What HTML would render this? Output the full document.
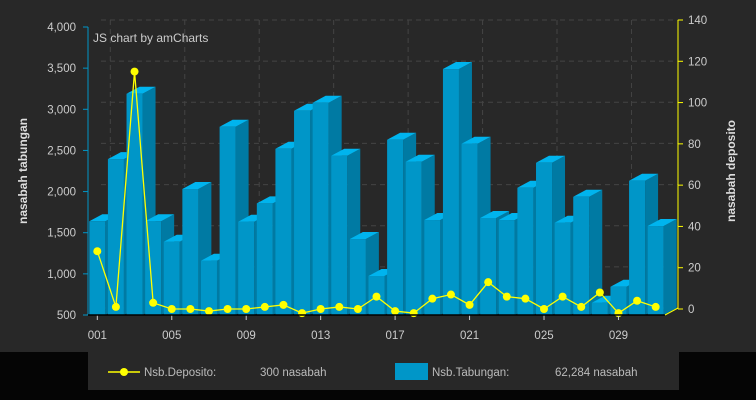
<!DOCTYPE html>
<html><head><meta charset="utf-8"><style>
body{margin:0;background:#050505;}
svg{display:block;font-family:"Liberation Sans","DejaVu Sans",sans-serif;}
</style></head><body>
<svg id="c" width="756" height="400">
<rect x="0" y="0" width="756" height="352" fill="#282828"/>
<rect x="0" y="352" width="756" height="48" fill="#050505"/>
<rect x="88" y="352" width="591" height="38" fill="#282828"/>
<g id="grid"></g><g id="bars"></g><g id="line"></g><g id="axes"></g>
<text x="93" y="42" fill="#ccc" font-size="12">JS chart by amCharts</text>
<text transform="translate(27,171) rotate(-90)" text-anchor="middle" fill="#ddd" font-size="12" font-weight="bold">nasabah tabungan</text>
<text transform="translate(735,171) rotate(-90)" text-anchor="middle" fill="#ddd" font-size="12" font-weight="bold">nasabah deposito</text>
<g>
<line x1="108" y1="372" x2="140" y2="372" stroke="#ffff00" stroke-width="1.5"/>
<circle cx="124" cy="372" r="4" fill="#ffff00"/>
<text x="144" y="376" fill="#bbb" font-size="11.5">Nsb.Deposito:</text>
<text x="260" y="376" fill="#bbb" font-size="11.5">300 nasabah</text>
</g>
<g>
<rect x="395" y="363" width="33" height="17" fill="#0096c8"/>
<text x="432" y="376" fill="#bbb" font-size="11.5">Nsb.Tabungan:</text>
<text x="555" y="376" fill="#bbb" font-size="11.5">62,284 nasabah</text>
</g>
</svg>
<script>
const categories=[];for(let i=1;i<=31;i++)categories.push(String(i).padStart(3,'0'));
const tabungan=[1640,2395,3189,1640,1390,2031,1160,2788,1634,1857,2520,2982,3080,2435,1423,974,2630,2363,1654,3489,2581,1679,1654,2047,2350,1621,1937,649,844,2132,1581];
const deposito=[28,1,115,3,0,0,-1,0,0,1,2,-2,0,1,0,6,-1,-2,5,7,2,13,6,5,0,6,1,8,-2,4,1];
const leftTicks=[500,1000,1500,2000,2500,3000,3500,4000];
const rightTicks=[0,20,40,60,80,100,120,140];
const NS='http://www.w3.org/2000/svg';
const X0=88,X1=665,YB=315,YT=27,DX=13,DY=-7;
const step=(X1-X0)/categories.length;
const xC=i=>X0+step*(i+0.5);
const yL=v=>YB-(v-500)/(4000-500)*(YB-YT);
const yR=v=>309-v/140*(309-20);
function el(t,a,p){const e=document.createElementNS(NS,t);for(const k in a)e.setAttribute(k,a[k]);p.appendChild(e);return e;}
const grid=document.getElementById('grid'),bars=document.getElementById('bars'),line=document.getElementById('line'),axes=document.getElementById('axes');
leftTicks.forEach(v=>{const y=yL(v)+DY;
 const g=el('line',{x1:X0+DX,x2:X1+DX,y1:y,y2:y,stroke:'#444','stroke-dasharray':'5,4'},grid);
 
 
 const t=el('text',{x:X0-12,y:yL(v)+4,'text-anchor':'end',fill:'#ccc','font-size':'11.5'},axes);t.textContent=v.toLocaleString('en-US');
 
 
 el('line',{x1:X0-5,x2:X0,y1:yL(v),y2:yL(v),stroke:'#0096c8'},axes);
});
rightTicks.forEach(v=>{const y=yR(v);
 el('line',{x1:X1+DX,x2:X1+DX+5,y1:y,y2:y,stroke:'#ffff00'},axes);
 const t=el('text',{x:X1+DX+10,y:y+4,fill:'#ccc','font-size':'11.5'},axes);t.textContent=v;
 
 
});
for(let i=0;i<categories.length;i+=4){const x=xC(i);
 const g=el('line',{x1:x+DX,x2:x+DX,y1:YT-7,y2:YB+DY,stroke:'#444','stroke-dasharray':'5,4'},grid);
 
 
 el('line',{x1:x,x2:x,y1:YB,y2:YB+5,stroke:'#ccc'},axes);
 const t=el('text',{x:x,y:339,'text-anchor':'middle',fill:'#ccc','font-size':'11.5'},axes);t.textContent=categories[i];
 
 
}
el('line',{x1:X0,x2:X0,y1:YT,y2:YB,stroke:'#0096c8'},axes);
el('line',{x1:X0,x2:X1,y1:YB,y2:YB,stroke:'#000','stroke-width':1.5},axes);
el('line',{x1:X1+DX,x2:X1+DX,y1:20,y2:309,stroke:'#ffff00'},axes);
el('line',{x1:X1,x2:X1+DX,y1:YB,y2:YB+DY,stroke:'#ffff00'},axes);
const bw=step*0.86;
tabungan.forEach((v,i)=>{const x=xC(i)-bw/2,y=yL(v);
 const g=el('g',{},bars);
 
 
 el('polygon',{points:`${x+bw},${y} ${x+bw+DX},${y+DY} ${x+bw+DX},${YB+DY} ${x+bw},${YB}`,fill:'#007aa3'},g);
 el('polygon',{points:`${x},${y} ${x+DX},${y+DY} ${x+bw+DX},${y+DY} ${x+bw},${y}`,fill:'#00b4ee'},g);
 el('rect',{x:x,y:y,width:bw,height:YB-y,fill:'#0096c8'},g);
});
const pts=deposito.map((v,i)=>xC(i)+','+yR(v)).join(' ');
const pl=el('polyline',{points:pts,fill:'none',stroke:'#ffff00','stroke-width':1.3},line);


deposito.forEach((v,i)=>{const c=el('circle',{cx:xC(i),cy:yR(v),r:4,fill:'#ffff00'},line);
 
 
});
</script>
</body></html>
